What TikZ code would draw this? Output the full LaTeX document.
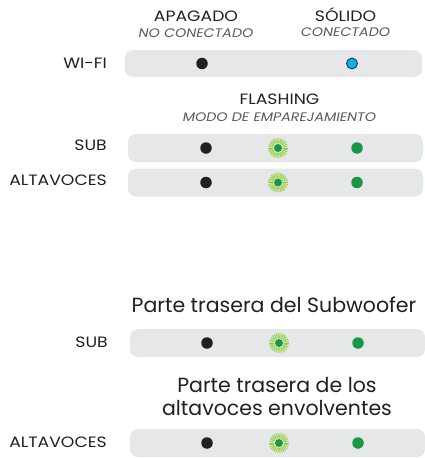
\documentclass[tikz,border=0pt]{standalone}
\usepackage{fontspec}
\setmainfont{Poppins}
\newfontfamily\widefont{Poppins}[FakeStretch=1.15]
\definecolor{bargray}{HTML}{E6E7E8}
\definecolor{txt}{HTML}{231F20}
\definecolor{subtxt}{HTML}{58595B}
\definecolor{dotblack}{HTML}{231F20}
\definecolor{dotblue}{HTML}{00AEEF}
\definecolor{dotgreen}{HTML}{1A9648}
\definecolor{halo}{HTML}{8DC63F}
\begin{document}
\begin{tikzpicture}[x=1pt,y=-1pt,
  bar/.style={fill=bargray, rounded corners=8pt, inner sep=0pt, minimum height=28pt},
  lbl/.style={anchor=east, text=txt, font=\widefont\fontsize{15}{17}\selectfont, inner sep=0pt},
  head/.style={text=txt, font=\widefont\fontsize{15}{17}\selectfont, inner sep=0pt},
  subhead/.style={text=subtxt, font=\widefont\fontsize{12.4}{14}\itshape\selectfont, inner sep=0pt},
  big/.style={text=txt, font=\fontsize{20.5}{23.5}\selectfont, inner sep=0pt, align=center},
  offdot/.style={circle, fill=dotblack, inner sep=0pt, minimum size=11.5pt},
  bluedot/.style={circle, fill=dotblue, draw=dotblack, line width=0.7pt, inner sep=0pt, minimum size=11pt},
  greendot/.style={circle, fill=dotgreen, inner sep=0pt, minimum size=11.5pt},
  flashdot/.style={circle, fill=dotgreen, inner sep=0pt, minimum size=8pt}
]
\useasboundingbox (0,0) rectangle (425,458);
\newcommand{\halo}[1]{%
  \fill[halo!35] (#1) circle (9.5pt);
  \foreach \a in {0,12,...,348}{\draw[halo, line width=0.6pt] (#1) ++(\a:5pt) -- ++(\a:5pt);}
}

% headings
\node[head] (hoff) at (196,16) {APAGADO};
\node[subhead] (soff) at (196,33) {NO CONECTADO};
\node[head] (hsol) at (345.5,15) {SÓLIDO};
\node[subhead] (ssol) at (345.5,32) {CONECTADO};
\node[head] (hfl) at (279.5,99) {FLASHING};
\node[subhead] (sfl) at (279.5,117) {MODO DE EMPAREJAMIENTO};

% WI-FI row
\node[bar, minimum width=297pt, minimum height=27pt] (wbar) at (273.5,63.5) {};
\node[lbl] (wlbl) at (107,63.5) {WI-FI};
\node[offdot] (w1) at (202,63.5) {};
\node[bluedot] (w2) at (352,63.5) {};

% SUB row
\node[bar, minimum width=295pt] (sbar) at (275.5,148) {};
\node[lbl] (slbl) at (107,145) {SUB};
\node[offdot] (s1) at (206,148) {};
\halo{278,148}
\node[flashdot] (s2) at (278,148) {};
\node[greendot] (s3) at (357,148) {};

% ALTAVOCES row
\node[bar, minimum width=295pt] (abar) at (275.5,182.5) {};
\node[lbl] (albl) at (107,180.5) {ALTAVOCES};
\node[offdot] (a1) at (206,182.5) {};
\halo{278,182.5}
\node[flashdot] (a2) at (278,182.5) {};
\node[greendot] (a3) at (357,182.5) {};

% Bottom section
\node[big] (tsub) at (274,305) {Parte trasera del Subwoofer};
\node[bar, minimum width=295pt] (sbar2) at (277.5,343) {};
\node[lbl] (slbl2) at (108,342) {SUB};
\node[offdot] (t1) at (207,343) {};
\halo{279,343}
\node[flashdot] (t2) at (279,343) {};
\node[greendot] (t3) at (358,343) {};

\node[big] (talt) at (277,396.5) {Parte trasera de los\\altavoces envolventes};
\node[bar, minimum width=295pt] (abar2) at (277.5,443) {};
\node[lbl] (albl2) at (107,442) {ALTAVOCES};
\node[offdot] (u1) at (207,443) {};
\halo{279,443}
\node[flashdot] (u2) at (279,443) {};
\node[greendot] (u3) at (358,443) {};
\end{tikzpicture}
\end{document}
